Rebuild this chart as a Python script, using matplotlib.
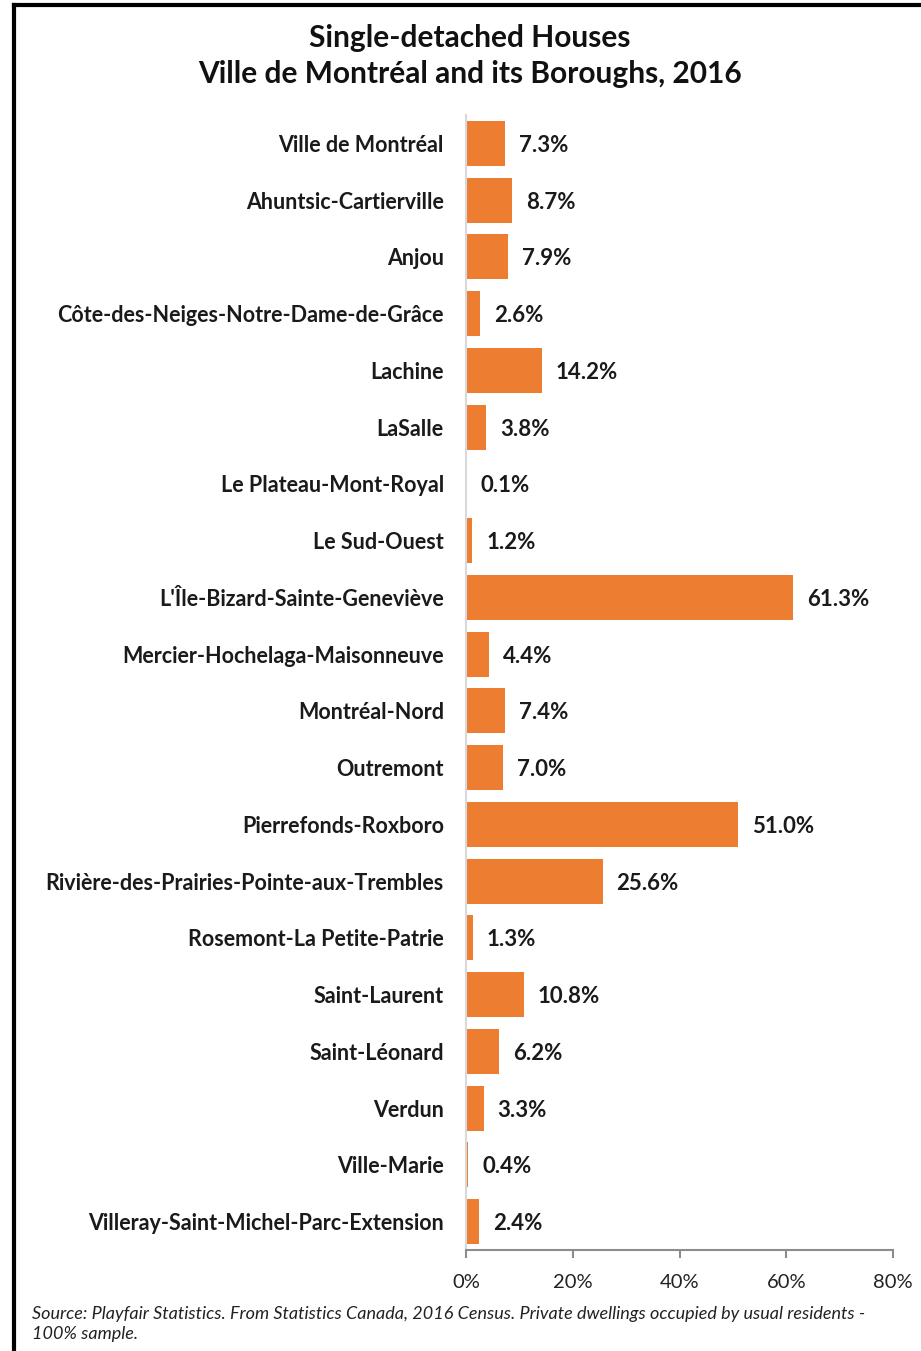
import matplotlib
matplotlib.use("Agg")
import matplotlib.pyplot as plt
from matplotlib.lines import Line2D
from matplotlib.ticker import PercentFormatter

# Boroughs and share of single-detached houses (%), 2016
boroughs = [
    "Ville de Montréal",
    "Ahuntsic-Cartierville",
    "Anjou",
    "Côte-des-Neiges-Notre-Dame-de-Grâce",
    "Lachine",
    "LaSalle",
    "Le Plateau-Mont-Royal",
    "Le Sud-Ouest",
    "L'Île-Bizard-Sainte-Geneviève",
    "Mercier-Hochelaga-Maisonneuve",
    "Montréal-Nord",
    "Outremont",
    "Pierrefonds-Roxboro",
    "Rivière-des-Prairies-Pointe-aux-Trembles",
    "Rosemont-La Petite-Patrie",
    "Saint-Laurent",
    "Saint-Léonard",
    "Verdun",
    "Ville-Marie",
    "Villeray-Saint-Michel-Parc-Extension",
]
shares = [7.3, 8.7, 7.9, 2.6, 14.2, 3.8, 0.1, 1.2, 61.3, 4.4,
          7.4, 7.0, 51.0, 25.6, 1.3, 10.8, 6.2, 3.3, 0.4, 2.4]
xticks = [0, 20, 40, 60, 80]

title = "Single-detached Houses\nVille de Montréal and its Boroughs, 2016"
source = ("Source: Playfair Statistics. From Statistics Canada, 2016 Census. "
          "Private dwellings occupied by usual residents -\n100% sample.")

plt.rcParams['font.family'] = ['Lato', 'DejaVu Sans']

W, H = 921, 1351
fig = plt.figure(figsize=(W / 100, H / 100), dpi=100)
ax = fig.add_axes([466 / W, 1 - 1250 / H, (893 - 466) / W, (1250 - 115) / H])

ypos = list(range(len(boroughs)))
ax.barh(ypos, shares, height=0.79, color='#ED7D31')
ax.set_ylim(len(boroughs) - 0.5, -0.5)
ax.set_xlim(0, 80)

ax.set_yticks(ypos)
ax.set_yticklabels(boroughs, fontsize=15.5, fontweight='bold', color='#1a1a1a')
ax.tick_params(axis='y', length=0, pad=16)

ax.set_xticks(xticks)
ax.xaxis.set_major_formatter(PercentFormatter(decimals=0))
ax.tick_params(axis='x', length=6, width=1.5, color='#8c8c8c',
               labelsize=14.5, labelcolor='#222222', pad=11)

for s in ['top', 'right']:
    ax.spines[s].set_visible(False)
ax.spines['bottom'].set_color('#8c8c8c')
ax.spines['bottom'].set_linewidth(1.5)
ax.spines['left'].set_color('#d9d9d9')
ax.spines['left'].set_linewidth(1.5)

for y, v in zip(ypos, shares):
    ax.annotate(f"{v:.1f}%", (v, y), xytext=(10, -1.5), textcoords='offset points',
                va='center', ha='left', fontsize=16, fontweight='bold',
                color='#1a1a1a')

fig.text(470 / W, 1 - 56 / H, title, ha='center', va='center',
         fontsize=21.5, fontweight='bold', color='#111111', linespacing=1.38)

fig.text(32 / W, 1 - 1324 / H, source, ha='left', va='center',
         fontsize=13, style='italic', color='#222222', linespacing=1.32)

# black frame on top and left like the original screenshot
fig.add_artist(Line2D([14 / W, 1], [1 - 5 / H, 1 - 5 / H], color='black', lw=3))
fig.add_artist(Line2D([14 / W, 14 / W], [0, 1 - 5 / H], color='black', lw=3))

fig.savefig("out.png", dpi=100, facecolor='white')
